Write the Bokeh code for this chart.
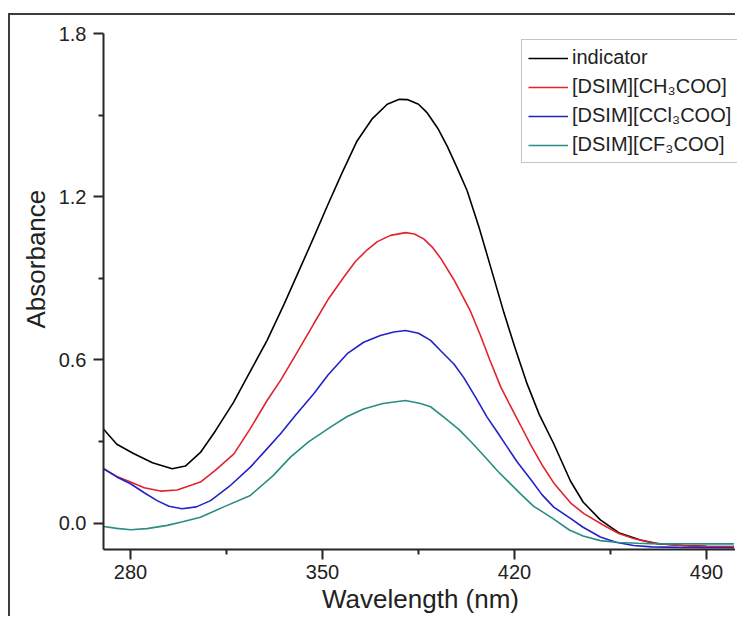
from bokeh.plotting import figure
from bokeh.models import Range1d, FixedTicker, PrintfTickFormatter, Title
from bokeh.embed import file_html
from bokeh.resources import INLINE

# Wavelength (nm) / absorbance
ind_x = [270.2, 275, 281.1, 288, 295.2, 300, 305.5, 311, 317.6, 323.5, 329.8, 336, 342, 347, 351.7,
         357, 362.6, 368, 373.6, 378, 380.9, 385, 388.2, 392, 395.5, 399, 402.7, 407, 411.2, 416.1,
         420, 424.6, 429, 434.3, 440.4, 445, 451.3, 458, 465.9, 472, 481.6, 490, 500]
ind_y = [0.345, 0.29, 0.256, 0.222, 0.200, 0.210, 0.260, 0.340, 0.445, 0.555, 0.672, 0.805, 0.941, 1.055, 1.165,
         1.285, 1.405, 1.485, 1.540, 1.558, 1.557, 1.540, 1.508, 1.452, 1.385, 1.308, 1.223, 1.090, 0.945, 0.775,
         0.650, 0.512, 0.400, 0.292, 0.155, 0.078, 0.012, -0.035, -0.062, -0.075, -0.082, -0.085, -0.086]

ch3_x = [270.2, 275, 280, 285, 290.9, 297, 305.5, 311, 317.7, 323.5, 329.8, 334.7, 340, 346.8, 352,
         357.8, 362, 366.3, 370, 374.8, 380.3, 383.5, 386.9, 390, 393, 397.9, 403.9, 407.6, 411, 415,
         419.6, 422.2, 425.8, 430, 434.3, 440.4, 445.3, 452, 458, 463.4, 470, 480, 490, 500]
ch3_y = [0.200, 0.172, 0.151, 0.130, 0.118, 0.122, 0.151, 0.195, 0.255, 0.345, 0.451, 0.525, 0.615, 0.733, 0.822,
         0.905, 0.962, 1.005, 1.035, 1.058, 1.068, 1.063, 1.045, 1.015, 0.975, 0.895, 0.780, 0.690, 0.600, 0.500,
         0.410, 0.360, 0.290, 0.215, 0.148, 0.075, 0.035, -0.005, -0.038, -0.056, -0.072, -0.082, -0.086, -0.087]

ccl_x = [270.2, 275, 280, 285, 289.7, 294, 298.8, 304, 309.2, 316, 323.7, 329, 334.7, 340, 346.8,
         352, 359, 365, 371.1, 376, 380.3, 385, 389.4, 393, 397.9, 401.5, 406, 410, 413.7, 417,
         421, 426, 430, 434.3, 440.4, 445, 451.3, 457, 463.4, 470, 480, 490, 500]
ccl_y = [0.200, 0.170, 0.145, 0.112, 0.083, 0.062, 0.053, 0.060, 0.083, 0.135, 0.206, 0.265, 0.329, 0.395, 0.476,
         0.545, 0.623, 0.665, 0.690, 0.703, 0.708, 0.698, 0.672, 0.635, 0.585, 0.535, 0.460, 0.390, 0.335, 0.285,
         0.225, 0.160, 0.105, 0.059, 0.018, -0.015, -0.051, -0.070, -0.082, -0.087, -0.089, -0.090, -0.090]

cf3_x = [270.2, 275, 280, 286, 293.4, 299, 305.5, 314, 323.7, 332, 338.3, 345, 352.9, 359, 365,
         372, 380.3, 385.7, 389.4, 394, 399.7, 405, 410, 414, 418, 422.2, 427, 430.5, 434.3,
         440, 445, 451.3, 458, 465, 469.6, 480, 490, 500]
cf3_y = [-0.012, -0.019, -0.024, -0.020, -0.008, 0.005, 0.022, 0.060, 0.102, 0.175, 0.243, 0.300, 0.353, 0.392, 0.420,
         0.440, 0.451, 0.440, 0.428, 0.392, 0.345, 0.290, 0.235, 0.190, 0.150, 0.108, 0.062, 0.040, 0.015,
         -0.025, -0.047, -0.064, -0.071, -0.074, -0.075, -0.076, -0.076, -0.076]

series_names = ["indicator", "[DSIM][CH\u2083COO]", "[DSIM][CCl\u2083COO]", "[DSIM][CF\u2083COO]"]
series_colors = ["#000000", "#e3232c", "#2222cc", "#2a8c82"]

x_ticks = [280, 350, 420, 490]
x_minor = [315, 385, 455]
y_ticks = [0.0, 0.6, 1.2, 1.8]
y_minor = [0.3, 0.9, 1.5]

FONT = "Liberation Sans"
AX = "#262626"

p = figure(width=727, height=603, output_backend="svg", toolbar_location=None,
           x_range=Range1d(270.15, 501.3), y_range=Range1d(-0.0967, 1.8),
           min_border_left=93, min_border_right=0, min_border_top=18, min_border_bottom=69)
p.styles = {"border-top": "2px solid #3c3c3c", "border-left": "2px solid #3c3c3c",
            "margin-top": "13px", "margin-left": "8px"}
p.outline_line_color = None
p.xgrid.visible = False
p.ygrid.visible = False
p.background_fill_color = "white"
p.border_fill_color = "white"

for xs, ys, name, col in zip([ind_x, ch3_x, ccl_x, cf3_x], [ind_y, ch3_y, ccl_y, cf3_y], series_names, series_colors):
    p.line(xs, ys, line_color=col, line_width=1.6, legend_label=name)

for ax, ticks, minor in [(p.xaxis[0], x_ticks, x_minor), (p.yaxis[0], y_ticks, y_minor)]:
    ax.ticker = FixedTicker(ticks=ticks, minor_ticks=minor)
    ax.axis_line_color = AX
    ax.axis_line_width = 2
    ax.major_tick_line_color = AX
    ax.major_tick_line_width = 2
    ax.minor_tick_line_color = AX
    ax.minor_tick_line_width = 2
    ax.major_tick_out = 10
    ax.major_tick_in = 0
    ax.minor_tick_out = 5
    ax.minor_tick_in = 0
    ax.major_label_text_font = FONT
    ax.major_label_text_font_size = "20px"
    ax.major_label_text_color = "#222222"

p.yaxis[0].formatter = PrintfTickFormatter(format="%.1f")
p.yaxis[0].major_label_standoff = 7
p.xaxis[0].major_label_standoff = 5
p.xaxis[0].axis_label = "Wavelength (nm)"
p.xaxis[0].axis_label_standoff = 2
p.xaxis[0].axis_label_text_font = FONT
p.xaxis[0].axis_label_text_font_size = "26px"
p.xaxis[0].axis_label_text_font_style = "normal"
p.xaxis[0].axis_label_text_color = "#222222"

ytitle = Title(text="Absorbance", align="left", offset=221, standoff=10,
               text_font=FONT, text_font_size="26px", text_font_style="normal",
               text_color="#222222")
p.add_layout(ytitle, "left")

lg = p.legend[0]
lg.location = (418, 386)
lg.label_text_font = FONT
lg.label_text_font_size = "20px"
lg.label_text_color = "#222222"
lg.glyph_width = 40
lg.label_standoff = 4
lg.padding = 6
lg.spacing = 6
lg.margin = 0
lg.border_line_color = "#8a8a8a"
lg.border_line_width = 1.5
lg.background_fill_alpha = 1.0

open("out.html", "w").write(file_html(p, INLINE))
